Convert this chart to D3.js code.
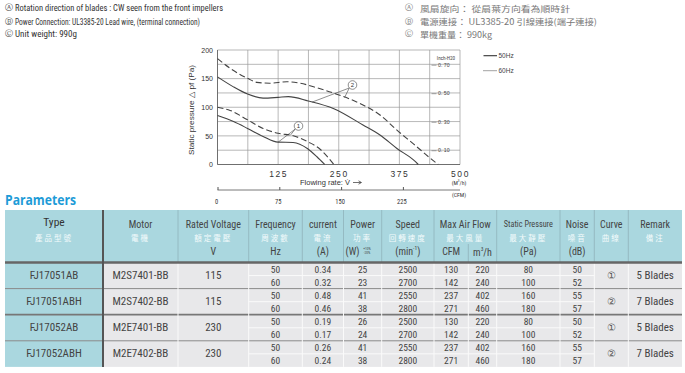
<!DOCTYPE html>
<html><head><meta charset="utf-8">
<script src="https://cdn.jsdelivr.net/npm/d3@7"></script>
<style>html,body{margin:0;padding:0;background:#fff;}svg{display:block;}</style>
</head><body>
<svg id="c" width="685" height="373"></svg>
<script>
// ---------- chart data ----------
const flowGrid = [0,62.5,125,187.5,250,312.5,375,437.5,500];
const flowLabels = [125,250,375,500];
const paGrid = [0,25,50,75,100,125,150,175,200];
const paLabels = [0,50,100,150,200];
const inchTicks = [0.1,0.3,0.5,0.7];
const cfmTicks = [0,75,150,225];

const c1_50Q = [0,33,62,94,125,156,186,205,221];
const c1_50P = [85.5,75,63,49,39,38.5,27.5,13.5,0];
const c1_60Q = [0,26,62,94,125,156,188,211,240];
const c1_60P = [100,94.5,78,63,54.5,50.3,39,27,0];
const c2_50Q = [0,32,62,94,125,146,187,240,300,335,370,404,414];
const c2_50P = [153,136,123,116,117.3,118.5,111,97.5,69,51.5,28,8,0];
const c2_60Q = [0,26,62,81,108,143,170,205,240,300,335,370,404,438,455];
const c2_60P = [185,168,150.5,143.5,142,144.6,142,134,124.5,104,86.5,60,36,11.5,0];

// ---------- table data ----------
const types = ["FJ17051AB","FJ17051ABH","FJ17052AB","FJ17052ABH"];
const motors = ["M2S7401-BB","M2S7402-BB","M2E7401-BB","M2E7402-BB"];
const voltages = ["115","115","230","230"];
const freqs = ["50","60"];
const currents = [["0.34","0.32"],["0.48","0.46"],["0.19","0.17"],["0.26","0.24"]];
const powers = [[25,23],[41,38],[26,24],[41,38]];
const speeds = [[2500,2700],[2550,2800],[2500,2700],[2550,2800]];
const cfms = [[130,142],[237,271],[130,142],[237,271]];
const m3hs = [[220,240],[402,460],[220,240],[402,460]];
const pressures = [[80,100],[160,180],[80,100],[160,180]];
const noises = [[50,52],[55,57],[50,52],[55,57]];
const curveIds = ["①","②","①","②"];
const remarks = ["5 Blades","7 Blades","5 Blades","7 Blades"];

const headEn = ["Type","Motor","Rated Voltage","Frequency","current","Power","Speed","Max Air Flow","Static Pressure","Noise","Curve","Remark"];
const headZh = ["產品型號","電機","額定電壓","周波數","電流","功率","回轉速度","最大風量","最大靜壓","噪音","曲線","備注"];
const headUnit = [null,null,"V","Hz","(A)","(W)","(min","",  "(Pa)","(dB)",null,null];

const infoEn = ["Rotation direction of blades : CW seen from the front impellers","Power Connection:  UL3385-20 Lead wire, (terminal connection)","Unit weight:  990g"];
const infoZh = ["風扇旋向：  從扇葉方向看為順時針","電源連接：  UL3385-20 引線連接(端子連接)","單機重量：  990kg"];
const infoMarks = ["Ⓐ","Ⓑ","Ⓒ"];

// ---------- drawing ----------
const NARROW = "'Liberation Sans Narrow','Arial Narrow','Roboto Condensed','Liberation Sans',Arial,sans-serif";
const SANS = "'Liberation Sans',Arial,Helvetica,sans-serif";
const CJK = "'Noto Sans CJK TC','Noto Sans CJK SC',sans-serif";
const svg = d3.select("#c");

// top info lines
const infoY = [7.5,21,33.5];
const enLen = [208,185,62];
const zhLen = [150,177,72];
infoEn.forEach((t,i)=>{
  svg.append("text").attr("x",4.5).attr("y",infoY[i]).attr("dominant-baseline","central")
    .attr("font-family","'DejaVu Sans',sans-serif").attr("font-size",8).attr("fill","#444").text(infoMarks[i]);
  svg.append("text").attr("x",15).attr("y",infoY[i]).attr("dominant-baseline","central")
    .attr("font-family",NARROW).attr("font-size",9.5).attr("fill","#333")
    .attr("textLength",enLen[i]).attr("lengthAdjust","spacingAndGlyphs").text(t);
  svg.append("text").attr("x",404.5).attr("y",infoY[i]).attr("dominant-baseline","central")
    .attr("font-family","'DejaVu Sans',sans-serif").attr("font-size",8).attr("fill","#777").text(infoMarks[i]);
  svg.append("text").attr("x",420).attr("y",infoY[i]).attr("dominant-baseline","central")
    .attr("font-family",CJK).attr("font-size",8.5).attr("fill","#777")
    .attr("textLength",zhLen[i]).attr("lengthAdjust","spacingAndGlyphs").text(infoZh[i]);
});

// scales
const x = d3.scaleLinear().domain([0,500]).range([217.5,460]);
const y = d3.scaleLinear().domain([0,200]).range([164.5,50]);
const yIn = d3.scaleLinear().domain([0,200/249.09]).range([164.5,50]);
const xCfm = d3.scaleLinear().domain([0,500/1.699]).range([217.5,460]);

const g = svg.append("g");
// grid
g.selectAll(".vg").data(flowGrid).join("line")
  .attr("x1",d=>x(d)).attr("x2",d=>x(d)).attr("y1",y(0)).attr("y2",y(200))
  .attr("stroke","#9a9a9a").attr("stroke-width",0.7);
g.selectAll(".hg").data(paGrid).join("line").attr("class","hg")
  .attr("x1",x(0)).attr("x2",x(500)).attr("y1",d=>y(d)).attr("y2",d=>y(d))
  .attr("stroke","#9a9a9a").attr("stroke-width",0.7);
// left/bottom heavier
g.append("line").attr("x1",x(0)).attr("x2",x(0)).attr("y1",y(0)).attr("y2",y(200)).attr("stroke","#666").attr("stroke-width",0.9);
g.append("line").attr("x1",x(0)).attr("x2",x(500)).attr("y1",y(0)).attr("y2",y(0)).attr("stroke","#666").attr("stroke-width",0.9);

// left axis labels
const ya = g.append("g").attr("transform",`translate(${x(0)},0)`)
  .call(d3.axisLeft(y).tickValues(paLabels).tickSize(0).tickPadding(4.5));
ya.select(".domain").remove();
ya.selectAll("text").attr("font-family",SANS).attr("font-size",7).attr("fill","#333");

// bottom flow axis labels
const xa = g.append("g").attr("transform",`translate(0,${y(0)})`)
  .call(d3.axisBottom(x).tickValues(flowLabels).tickSize(0).tickPadding(6));
xa.select(".domain").remove();
xa.selectAll("text").attr("font-family",SANS).attr("font-size",8.5).attr("letter-spacing","1.6px").attr("fill","#333");

// right inch axis
const ra = g.append("g").attr("transform",`translate(431.5,0)`)
  .call(d3.axisRight(yIn).tickValues(inchTicks).tickSize(5).tickPadding(1.5).tickFormat(d=>d3.format(".2f")(d).replace(".",". ")));
ra.select(".domain").remove();
ra.selectAll("line").attr("stroke","#777").attr("stroke-width",0.7);
ra.selectAll("text").attr("font-family",SANS).attr("font-size",5.2).attr("fill","#444");
g.append("text").attr("x",446).attr("y",57.5).attr("text-anchor","middle").attr("dominant-baseline","central")
  .attr("font-family",NARROW).attr("font-size",5.2).attr("fill","#444").text("Inch-H20");

// CFM axis
const ca = g.append("g").attr("transform",`translate(0,190)`)
  .call(d3.axisTop(xCfm).tickValues(cfmTicks).tickSizeInner(3).tickSizeOuter(0).tickFormat(""));
ca.select(".domain").attr("stroke","#555").attr("stroke-width",0.8).attr("d",`M${x(0)},0H${x(500)}`);
ca.selectAll("line").attr("stroke","#555");
g.selectAll(".cfml").data(cfmTicks).join("text").attr("class","cfml")
  .attr("x",d=>xCfm(d)-1).attr("y",201.5).attr("text-anchor","middle").attr("dominant-baseline","central")
  .attr("font-family",NARROW).attr("font-size",6.5).attr("fill","#333").text(d=>d);
g.append("text").attr("x",459).attr("y",182.5).attr("text-anchor","middle").attr("dominant-baseline","central")
  .attr("font-family",NARROW).attr("font-size",5.8).attr("fill","#333").html("(M<tspan dy='-2' font-size='3.5'>3</tspan><tspan dy='2'>/h)</tspan>");
g.append("text").attr("x",459).attr("y",195).attr("text-anchor","middle").attr("dominant-baseline","central")
  .attr("font-family",NARROW).attr("font-size",5.8).attr("fill","#333").text("(CFM)");
g.append("text").attr("x",300).attr("y",182.5).attr("dominant-baseline","central")
  .attr("font-family",SANS).attr("font-size",6.3).attr("fill","#333").attr("textLength",50).attr("lengthAdjust","spacingAndGlyphs").text("Flowing rate: V̇");
g.append("line").attr("x1",353).attr("x2",361).attr("y1",182.5).attr("y2",182.5).attr("stroke","#333").attr("stroke-width",0.7);
g.append("path").attr("d","M358.5,180.8L361.5,182.5L358.5,184.2").attr("fill","none").attr("stroke","#333").attr("stroke-width",0.7);

// y title
g.append("text").attr("transform","translate(191,110) rotate(-90)").attr("text-anchor","middle").attr("dominant-baseline","central")
  .attr("font-family",SANS).attr("font-size",8).attr("fill","#333").attr("textLength",90).attr("lengthAdjust","spacingAndGlyphs")
  .text("Static pressure △ pf (Pa)");

// curves
const line = d3.line().x(d=>x(d[0])).y(d=>y(d[1])).curve(d3.curveMonotoneX);
const series = [
  {q:c1_50Q,p:c1_50P,dash:null},
  {q:c1_60Q,p:c1_60P,dash:"6,3"},
  {q:c2_50Q,p:c2_50P,dash:null},
  {q:c2_60Q,p:c2_60P,dash:"6,3"}
];
series.forEach(s=>{
  g.append("path").attr("d",line(d3.zip(s.q,s.p))).attr("fill","none")
    .attr("stroke","#444").attr("stroke-width",1.1).attr("stroke-dasharray",s.dash);
});

// annotations
function annot(cx,cy,label,targets){
  targets.forEach(t=>{
    g.append("line").attr("x1",cx-3.2).attr("y1",cy+3).attr("x2",x(t[0])).attr("y2",y(t[1]))
      .attr("stroke","#444").attr("stroke-width",0.6);
  });
  g.append("circle").attr("cx",cx).attr("cy",cy).attr("r",4.3).attr("fill","#fff").attr("stroke","#444").attr("stroke-width",0.6);
  g.append("text").attr("x",cx).attr("y",cy+0.3).attr("text-anchor","middle").attr("dominant-baseline","central")
    .attr("font-family",SANS).attr("font-size",6).attr("fill","#333").text(label);
}
annot(298.5,126,"1",[[125,39],[150,51]]);
annot(352.5,85,"2",[[195,109],[262,117]]);

// legend
g.append("line").attr("x1",483.5).attr("x2",497).attr("y1",55.7).attr("y2",55.7).attr("stroke","#333").attr("stroke-width",1.1);
g.append("line").attr("x1",483.5).attr("x2",497).attr("y1",70.7).attr("y2",70.7).attr("stroke","#333").attr("stroke-width",0.9).attr("stroke-dasharray","1,1");
g.append("text").attr("x",498.5).attr("y",55.7).attr("dominant-baseline","central").attr("font-family",SANS).attr("font-size",6.5).attr("fill","#444").text("50Hz");
g.append("text").attr("x",498.5).attr("y",70.7).attr("dominant-baseline","central").attr("font-family",SANS).attr("font-size",6.5).attr("fill","#444").text("60Hz");

// ---------- Parameters title ----------
svg.append("text").attr("x",5).attr("y",199).attr("dominant-baseline","central")
  .attr("font-family","'Open Sans','Liberation Sans',sans-serif").attr("font-weight","bold").attr("font-size",15)
  .attr("fill","#1d9bd7").attr("textLength",71).attr("lengthAdjust","spacingAndGlyphs").text("Parameters");

// ---------- table ----------
const colX = [5,103,178,248.7,302.3,343.5,381.7,434,468.3,496.7,560,594.3,628.3,682];
const headSpan = [[0,1],[1,2],[2,3],[3,4],[4,5],[5,6],[6,7],[7,9],[9,10],[10,11],[11,12],[12,13]];
const tTop = 210, hBot = 262.5, rowH = 13.05;
const HEADBG = "#aad7df", DATABG = "#e8e8ea", TXT = "#444";
const t = svg.append("g");
t.append("rect").attr("x",colX[0]).attr("y",tTop).attr("width",colX[13]-colX[0]).attr("height",hBot-tTop).attr("fill",HEADBG);
t.append("rect").attr("x",colX[1]).attr("y",hBot).attr("width",colX[13]-colX[1]).attr("height",rowH*8).attr("fill",DATABG);
t.append("rect").attr("x",colX[0]).attr("y",hBot).attr("width",colX[1]-colX[0]).attr("height",rowH*8).attr("fill",HEADBG);

// header vertical separators
headSpan.slice(1).forEach(s=>{
  t.append("line").attr("x1",colX[s[0]]).attr("x2",colX[s[0]]).attr("y1",tTop).attr("y2",hBot).attr("stroke","#8fb3ba").attr("stroke-width",0.8);
});
t.append("line").attr("x1",colX[8]).attr("x2",colX[8]).attr("y1",244).attr("y2",hBot).attr("stroke","#8fb3ba").attr("stroke-width",0.8);

function tx(xp,yp,str,size,fill,fam){
  return t.append("text").attr("x",xp).attr("y",yp).attr("text-anchor","middle").attr("dominant-baseline","central")
    .attr("font-family",fam||NARROW).attr("font-size",size).attr("fill",fill||TXT).text(str);
}
headSpan.forEach((s,i)=>{
  const cx = (colX[s[0]]+colX[s[1]])/2;
  if(i===0){
    tx(cx,221.5,headEn[i],11.5,"#333");
    tx(cx,237.5,headZh[i],7.5,"#f4fbfc",CJK).attr("letter-spacing","2px");
    return;
  }
  const fs = i===8 ? 8.2 : 10;
  tx(cx,224,headEn[i],fs,"#444");
  tx(cx,237.5,headZh[i],7.5,"#f4fbfc",CJK).attr("letter-spacing","2px");
});
// units
[2,3,4,8,9].forEach(i=>{
  const s = headSpan[i]; tx((colX[s[0]]+colX[s[1]])/2,251,headUnit[i],10,"#444");
});
// power unit
tx(352.5,251,"(W)",10,"#444");
tx(367,248.8,"+10%",3.6,"#444"); tx(367,253,"-20%",3.6,"#444");
// speed unit
{
  const s=headSpan[6], cx=(colX[s[0]]+colX[s[1]])/2;
  const el = tx(cx,251,"",10,"#444");
  el.append("tspan").text("(min");
  el.append("tspan").attr("dy",-3).attr("font-size",5.5).text("-1");
  el.append("tspan").attr("dy",3).text(")");
}
// air flow units
tx((colX[7]+colX[8])/2,251.5,"CFM",10,"#444");
{
  const el = tx((colX[8]+colX[9])/2,251.5,"",10,"#444");
  el.append("tspan").text("m");
  el.append("tspan").attr("dy",-3).attr("font-size",5.5).text("3");
  el.append("tspan").attr("dy",3).text("/h");
}

// data grid lines
for(let r=0;r<8;r++){
  const yy = hBot + r*rowH;
  if(r%2===1){
    t.append("line").attr("x1",colX[3]).attr("x2",colX[11]).attr("y1",yy).attr("y2",yy).attr("stroke","#fafafa").attr("stroke-width",1);
  } else if(r>0){
    const heavy = r===4;
    t.append("line").attr("x1",colX[0]).attr("x2",colX[13]).attr("y1",yy).attr("y2",yy)
      .attr("stroke",heavy?"#777":"#8a8a8a").attr("stroke-width",heavy?1.8:1);
  }
}
for(let c=2;c<13;c++){
  const full = [2,3,11,12].includes(c);
  t.append("line").attr("x1",colX[c]).attr("x2",colX[c]).attr("y1",hBot).attr("y2",hBot+rowH*8)
    .attr("stroke","#fafafa").attr("stroke-width",1);
}
// heavy lines
t.append("line").attr("x1",colX[0]).attr("x2",colX[13]).attr("y1",hBot).attr("y2",hBot).attr("stroke","#666").attr("stroke-width",2.4);
t.append("line").attr("x1",colX[1]).attr("x2",colX[1]).attr("y1",tTop).attr("y2",hBot+rowH*8).attr("stroke","#555").attr("stroke-width",2);

// data text
const cen = i=>(colX[i]+colX[i+1])/2;
types.forEach((ty,gi)=>{
  const gy = hBot + gi*2*rowH;
  const midY = gy + rowH;
  tx(cen(0),midY,ty,11,TXT);
  tx(cen(1),midY,motors[gi],11,TXT);
  tx(cen(2),midY,voltages[gi],11,TXT);
  tx(cen(11),midY,curveIds[gi],10,"#555",SANS);
  tx(cen(12),midY,remarks[gi],11,TXT);
  [0,1].forEach(k=>{
    const ry = gy + k*rowH + rowH/2;
    const vals = [freqs[k],currents[gi][k],powers[gi][k],speeds[gi][k],cfms[gi][k],m3hs[gi][k],pressures[gi][k],noises[gi][k]];
    vals.forEach((v,j)=>tx(cen(3+j),ry,v,9.5,TXT));
  });
});
</script>
</body></html>
